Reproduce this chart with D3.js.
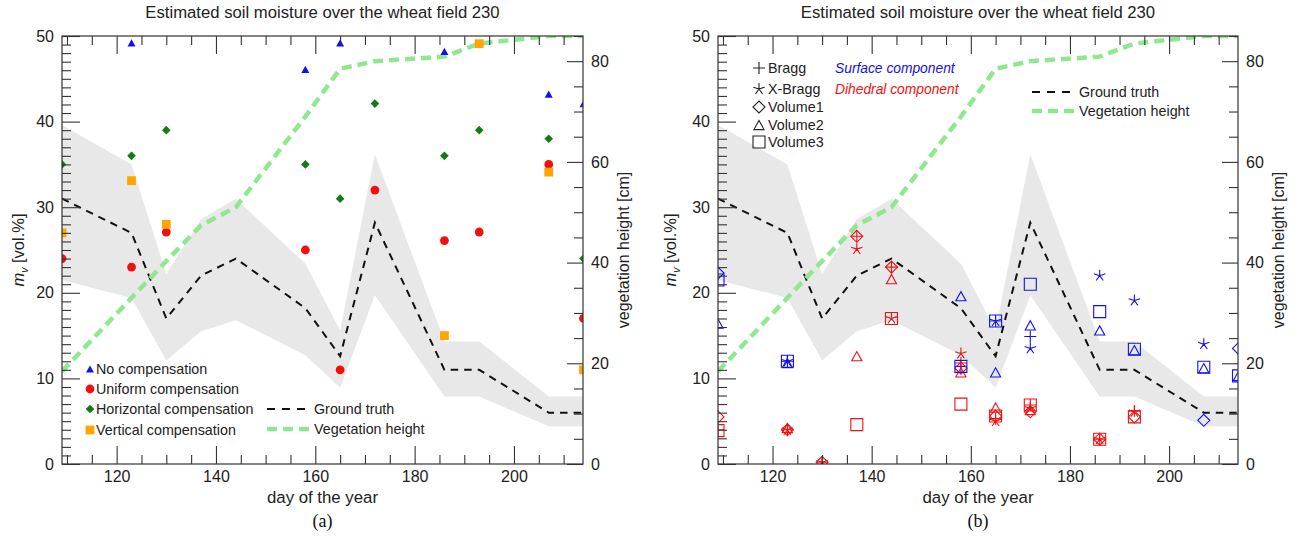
<!DOCTYPE html>
<html><head><meta charset="utf-8">
<script src="https://cdn.jsdelivr.net/npm/d3@7"></script>
<style>body{margin:0;background:#fff} svg{display:block}</style>
</head><body>
<svg id="c" width="1299" height="536"></svg>
<script>
// ---------- data ----------
const days = [109,123,130,137,144,158,165,172,186,193,207,214];
const groundTruth = [31,27,17,22,24,18.2,12.6,28.2,11,11,6,6];
const truthUpper = [39.6,35,22.2,28.6,31,23.4,15.6,36.2,14.3,14.3,7.9,7.9];
const truthLower = [21.5,19.4,12.1,15.5,16.8,12.7,8.9,19.7,7.9,7.9,4.4,4.4];
const vegHeight = [18.4,33,40.3,47.4,51,69,78.5,80,80.9,83.5,85,85];

// panel (a)
const noComp      = [null,49.2,null,null,null,46.1,49.2,null,48.2,null,43.2,42.1];
const uniformComp = [24,23,27.1,null,null,25,11,32,26.1,27.1,35,17];
const horizComp   = [35,36,39,null,null,35,31,42.1,36,39,38,24];
const vertComp    = [27,33.1,28,null,null,null,null,null,15,49.1,34.1,11];

// panel (b) surface (blue)
const surfBragg  = [null,12,null,null,null,11.4,16.7,14.9,null,null,null,null];
const surfXBragg = [null,12,null,null,null,null,16.7,13.5,22,19.1,14,null];
const surfVol1   = [22.3,null,null,null,null,null,null,null,null,null,5.1,13.5];
const surfVol2   = [16.4,11.8,null,null,null,19.6,10.7,16.2,15.6,13.3,11.2,10.3];
const surfVol3   = [21.5,12,null,null,null,11.4,16.7,21,17.8,13.4,11.3,10.3];
// panel (b) dihedral (red)
const dihBragg  = [4,4,0.2,26.6,23,11.8,5.3,6.9,2.9,6.2,null,null];
const dihXBragg = [null,4,0.2,25.1,17,12.9,5,6.5,2.9,6.1,null,null];
const dihVol1   = [5.5,4,0.2,26.6,23,11.2,5.6,6.1,2.9,5.5,null,null];
const dihVol2   = [null,4.2,null,12.6,21.6,10.7,6.6,6.3,null,null,null,null];
const dihVol3   = [3.9,null,null,4.6,17,7,5.6,6.9,2.9,5.5,null,null];

const xMajor = [120,140,160,180,200];
const yMajor = [0,10,20,30,40,50];
const vMajor = [0,20,40,60,80];

const titleText = "Estimated soil moisture over the wheat field 230";
const legendA = ["No compensation","Uniform compensation","Horizontal compensation","Vertical compensation"];
const legendLines = ["Ground truth","Vegetation height"];
const legendSymB = ["Bragg","X-Bragg","Volume1","Volume2","Volume3"];
const legendCompB = ["Surface component","Dihedral component"];

// ---------- drawing ----------
const svg = d3.select('#c');
const FONT = '"Liberation Sans", Arial, Helvetica, sans-serif';
const Y0 = 36, Y1 = 464;
const BLUE = '#1010f0', RED = '#f01010', GREEN = '#147a14', ORANGE = '#ffa500', VEG = '#8fe88f';

function symPath(type, s){
  if(type==='tri') return `M0,${-s}L${s*1.1},${s}L${-s*1.1},${s}Z`;
  if(type==='dia') return `M0,${-s}L${s},0L0,${s}L${-s},0Z`;
  if(type==='sq') return `M${-s},${-s}H${s}V${s}H${-s}Z`;
  if(type==='plus') return `M${-s},0H${s}M0,${-s}V${s}`;
  if(type==='ast'){ let p=''; for(let i=0;i<5;i++){const a=(-90+i*72)*Math.PI/180; p+=`M0,0L${(s*Math.cos(a)).toFixed(2)},${(s*Math.sin(a)).toFixed(2)}`;} return p; }
}

function drawPanel(idx){
  const x0 = idx===0 ? 62 : 718, x1 = idx===0 ? 583 : 1238;
  const cx = (x0+x1)/2;
  const g = svg.append('g');
  const x = d3.scaleLinear().domain([109,213.9]).range([x0,x1]);
  const y = d3.scaleLinear().domain([0,50]).range([Y1,Y0]);
  const yv = d3.scaleLinear().domain([0,85]).range([Y1,Y0]);

  const cid = 'clip'+idx;
  svg.append('clipPath').attr('id',cid).append('rect')
    .attr('x',x0).attr('y',Y0).attr('width',x1-x0).attr('height',Y1-Y0);
  const plot = g.append('g').attr('clip-path',`url(#${cid})`);

  const area = d3.area().x((d,i)=>x(days[i])).y0((d,i)=>y(truthLower[i])).y1((d,i)=>y(truthUpper[i]));
  plot.append('path').datum(days).attr('d',area).attr('fill','#e8e8e8');

  const gl = d3.line().x((d,i)=>x(days[i])).y(d=>y(d));
  plot.append('path').datum(groundTruth).attr('d',gl).attr('fill','none')
    .attr('stroke','#111').attr('stroke-width',2).attr('stroke-dasharray','7.5,6');
  const vl = d3.line().x((d,i)=>x(days[i])).y(d=>yv(d));
  plot.append('path').datum(vegHeight).attr('d',vl).attr('fill','none')
    .attr('stroke',VEG).attr('stroke-width',4.5).attr('stroke-dasharray','10,6');

  function marks(arr, type, color, filled, s){
    plot.append('g').selectAll('path').data(arr.map((v,i)=>[days[i],v]).filter(d=>d[1]!==null))
      .join('path').attr('d',symPath(type,s))
      .attr('transform',d=>`translate(${x(d[0])},${y(d[1])})`)
      .attr('fill',filled?color:'none').attr('stroke',filled?'none':color).attr('stroke-width',1.1);
  }

  if(idx===0){
    marks(noComp,'tri',BLUE,true,3.6);
    plot.append('g').selectAll('circle').data(uniformComp.map((v,i)=>[days[i],v]).filter(d=>d[1]!==null))
      .join('circle').attr('cx',d=>x(d[0])).attr('cy',d=>y(d[1])).attr('r',4.4).attr('fill',RED);
    marks(horizComp,'dia',GREEN,true,4.3);
    marks(vertComp,'sq',ORANGE,true,4.4);
  } else {
    const sets = [[surfBragg,dihBragg,'plus',6],[surfXBragg,dihXBragg,'ast',6],[surfVol1,dihVol1,'dia',6],[surfVol2,dihVol2,'tri',4.6],[surfVol3,dihVol3,'sq',6]];
    sets.forEach(s=>{ marks(s[0],s[2],BLUE,false,s[3]); marks(s[1],s[2],RED,false,s[3]); });
  }

  // frame
  g.append('rect').attr('x',x0).attr('y',Y0).attr('width',x1-x0).attr('height',Y1-Y0)
    .attr('fill','none').attr('stroke','#333').attr('stroke-width',1.2);

  function addAxis(axis, tx, ty){
    const a = g.append('g').attr('transform',`translate(${tx},${ty})`).call(axis);
    a.select('.domain').remove();
    a.selectAll('line').attr('stroke','#333').attr('stroke-width',1.1);
    a.selectAll('text').attr('fill','#222').style('font-family',FONT).style('font-size','16px');
    return a;
  }
  const xMinor = d3.range(110,214,5).filter(v=>v%20!==0);
  addAxis(d3.axisBottom(x).tickValues(xMajor).tickSize(-18).tickPadding(7).tickSizeOuter(0),0,Y1);
  addAxis(d3.axisBottom(x).tickValues(xMinor).tickSize(-9).tickFormat('').tickSizeOuter(0),0,Y1);
  addAxis(d3.axisTop(x).tickValues(xMajor).tickSize(-18).tickFormat('').tickSizeOuter(0),0,Y0);
  addAxis(d3.axisTop(x).tickValues(xMinor).tickSize(-9).tickFormat('').tickSizeOuter(0),0,Y0);
  addAxis(d3.axisLeft(y).tickValues(yMajor).tickSize(-18).tickPadding(8).tickSizeOuter(0),x0,0);
  addAxis(d3.axisLeft(y).tickValues(d3.range(1,50).filter(v=>v%10)).tickSize(-9).tickFormat('').tickSizeOuter(0),x0,0);
  addAxis(d3.axisRight(yv).tickValues(vMajor).tickSize(-16).tickPadding(8).tickSizeOuter(0),x1,0);
  addAxis(d3.axisRight(yv).tickValues(d3.range(5,86,5).filter(v=>v%20)).tickSize(-9).tickFormat('').tickSizeOuter(0),x1,0);

  // texts
  g.append('text').attr('x',cx).attr('y',18).attr('text-anchor','middle')
    .style('font-family',FONT).style('font-size','16.7px').attr('fill','#222').text(titleText);
  g.append('text').attr('x',cx).attr('y',503).attr('text-anchor','middle')
    .style('font-family',FONT).style('font-size','16.8px').attr('fill','#222').text('day of the year');
  g.append('text').attr('x',cx).attr('y',527).attr('text-anchor','middle')
    .style('font-family','"Liberation Serif", "Times New Roman", serif').style('font-size','18px').attr('fill','#111')
    .text(idx===0?'(a)':'(b)');
  const ylx = idx===0 ? x0-38 : x0-42;
  const yl = g.append('text').attr('transform',`translate(${ylx},250) rotate(-90)`).attr('text-anchor','middle')
    .style('font-family',FONT).style('font-size','16.5px').attr('fill','#222');
  yl.append('tspan').style('font-style','italic').text('m');
  yl.append('tspan').attr('dy',4).style('font-size','10.5px').style('font-style','italic').text('v');
  yl.append('tspan').attr('dy',-4).text(' [vol.%]');
  g.append('text').attr('transform',`translate(${x1+46},250) rotate(-90)`).attr('text-anchor','middle')
    .style('font-family',FONT).style('font-size','16px').attr('fill','#222').text('vegetation height [cm]');

  // legends
  const lfs = '14.3px';
  if(idx===0){
    const ly = [369,389,409,430];
    const lg = g.append('g');
    const cols = [BLUE,RED,GREEN,ORANGE];
    legendA.forEach((t,i)=>{
      const mx=90, my=ly[i];
      if(i===0) lg.append('path').attr('d',symPath('tri',3.6)).attr('transform',`translate(${mx},${my})`).attr('fill',cols[i]);
      if(i===1) lg.append('circle').attr('cx',mx).attr('cy',my).attr('r',4.4).attr('fill',cols[i]);
      if(i===2) lg.append('path').attr('d',symPath('dia',4.3)).attr('transform',`translate(${mx},${my})`).attr('fill',cols[i]);
      if(i===3) lg.append('path').attr('d',symPath('sq',4.4)).attr('transform',`translate(${mx},${my})`).attr('fill',cols[i]);
      lg.append('text').attr('x',96).attr('y',my+5).style('font-family',FONT).style('font-size',lfs).attr('fill','#222').text(t);
    });
    drawLineLegend(g, 267, 312, [409,429]);
  } else {
    const ly = [68,89,107,125,142];
    const types = ['plus','ast','dia','tri','sq'];
    const sz = [6,6,6,4.6,6];
    legendSymB.forEach((t,i)=>{
      g.append('path').attr('d',symPath(types[i],sz[i])).attr('transform',`translate(759,${ly[i]})`)
        .attr('fill','none').attr('stroke','#222').attr('stroke-width',1.1);
      g.append('text').attr('x',768).attr('y',ly[i]+5).style('font-family',FONT).style('font-size',lfs).attr('fill','#222').text(t);
    });
    legendCompB.forEach((t,i)=>{
      g.append('text').attr('x',835).attr('y',ly[i]+5).style('font-family',FONT).style('font-size','13.8px')
        .style('font-style','italic').attr('fill',i===0?BLUE:RED).text(t);
    });
    drawLineLegend(g, 1032, 1077, [92,111]);
  }
}

function drawLineLegend(g, xa, xb, ys){
  g.append('line').attr('x1',xa).attr('x2',xb).attr('y1',ys[0]).attr('y2',ys[0])
    .attr('stroke','#111').attr('stroke-width',2).attr('stroke-dasharray','8,7');
  g.append('line').attr('x1',xa).attr('x2',xb).attr('y1',ys[1]).attr('y2',ys[1])
    .attr('stroke',VEG).attr('stroke-width',4.5).attr('stroke-dasharray','10,6');
  legendLines.forEach((t,i)=>{
    g.append('text').attr('x',xb+2).attr('y',ys[i]+5).style('font-family',FONT).style('font-size','14.3px').attr('fill','#222').text(t);
  });
}

drawPanel(0);
drawPanel(1);
</script>
</body></html>
